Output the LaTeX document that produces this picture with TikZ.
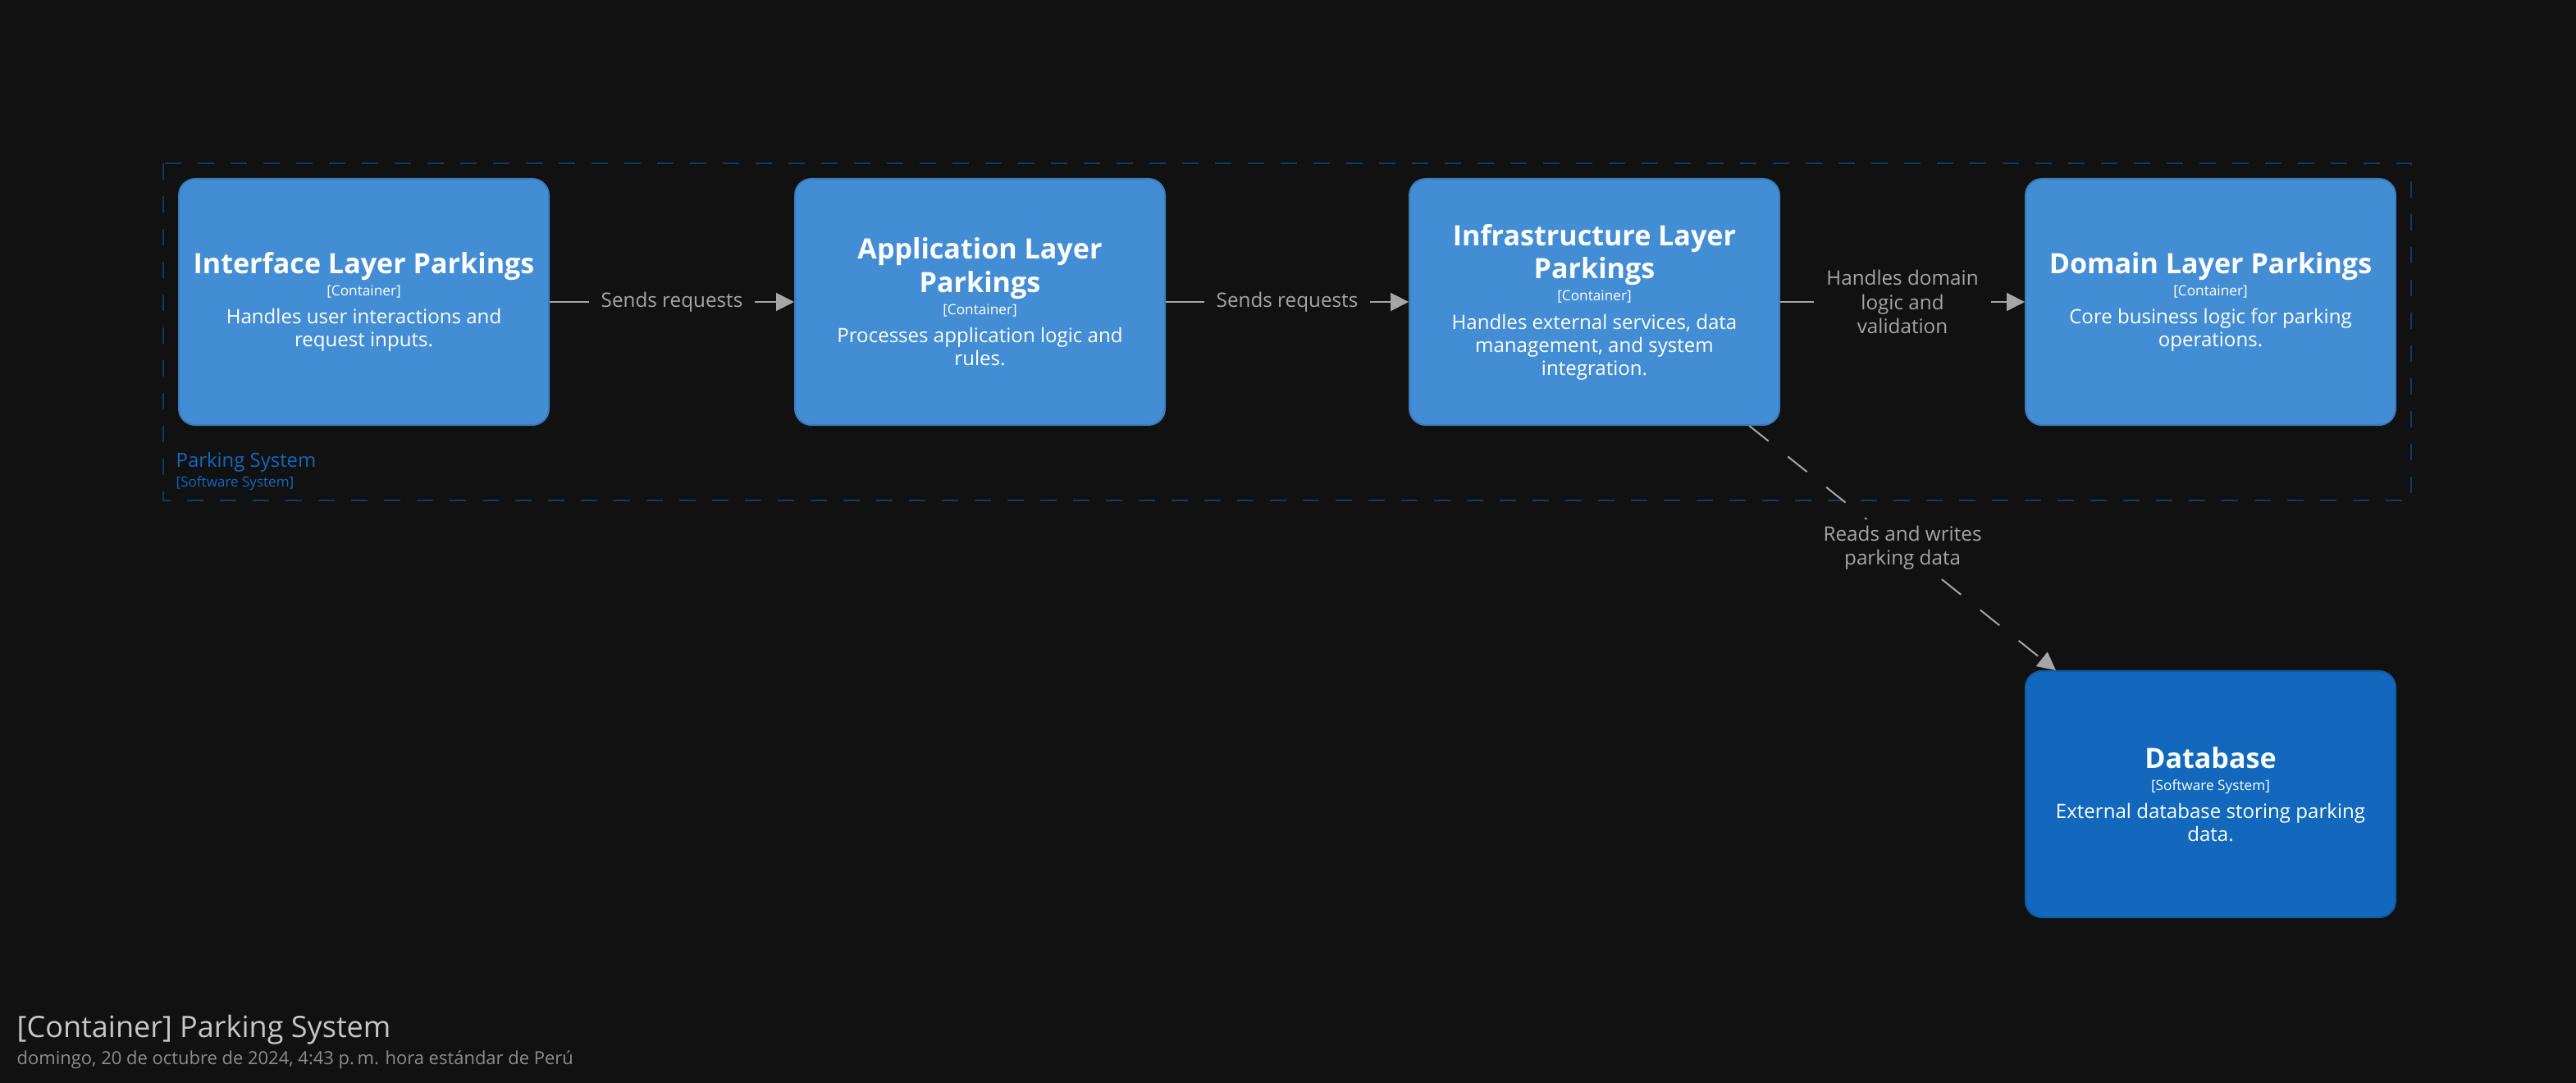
\documentclass[tikz,border=0pt]{standalone}
\usepackage{fontspec}
\setmainfont{Open Sans}
\usetikzlibrary{arrows.meta}
\definecolor{bgcolor}{HTML}{111111}
\definecolor{containercolor}{HTML}{438DD5}
\definecolor{systemcolor}{HTML}{1168BD}
\definecolor{boundarycolor}{HTML}{0E3A66}
\definecolor{linkcolor}{HTML}{A6A6A6}
\newcommand{\boxwidth}{4.51cm}
\newcommand{\boxheight}{3.0cm}
\newcommand{\namefont}{\fontsize{9.7}{11.6}\selectfont\bfseries}
\newcommand{\tagfont}{\fontsize{4.9}{6}\selectfont}
\newcommand{\descfont}{\fontsize{6.85}{8.0}\selectfont}
\newcommand{\boxtext}[3]{{\namefont #1\par}\vspace{0.06cm}{\tagfont #2\par}\vspace{0.06cm}{\descfont #3\par}}

\tikzset{
  container/.style={rectangle, rounded corners=0.2cm, fill=containercolor,
    draw=containercolor!88!black, line width=0.02cm,
    minimum width=\boxwidth, minimum height=\boxheight,
    text width=4.4cm, align=flush center, text=white, inner sep=0pt},
  extsystem/.style={container, fill=systemcolor, draw=systemcolor!88!black},
  link/.style={draw=linkcolor, line width=0.02cm,
    -{Triangle[length=0.22cm, width=0.22cm]}, linkcolor},
  linklabel/.style={fill=bgcolor, text=linkcolor, align=center,
    font=\fontsize{6.9}{8.3}\selectfont, inner xsep=0.15cm, inner ysep=0.08cm},
}

\begin{document}
\begin{tikzpicture}
\fill[bgcolor] (0,0) rectangle (31.4,-13.2);
\useasboundingbox (0,0) rectangle (31.4,-13.2);

% boundary of the software system
\draw[boundarycolor, line width=0.02cm, dash pattern=on 0.2cm off 0.2cm] (1.99,-1.99) rectangle (29.39,-6.10);
\node[anchor=west, text=systemcolor, font=\fontsize{6.8}{8}\selectfont, inner sep=0pt] (sysname) at (2.14,-5.63) {Parking System};
\node[anchor=west, text=systemcolor, font=\fontsize{4.85}{6}\selectfont, inner sep=0pt] (systag) at (2.14,-5.89) {[Software System]};

% containers
\node[container] (iface) at (4.435,-3.68) {\boxtext{Interface Layer Parkings}{[Container]}{Handles user interactions and\\request inputs.}};
\node[container] (app) at (11.945,-3.68) {\boxtext{Application Layer\\Parkings}{[Container]}{Processes application logic and\\rules.}};
\node[container] (infra) at (19.435,-3.68) {\boxtext{Infrastructure Layer\\Parkings}{[Container]}{Handles external services, data\\management, and system\\integration.}};
\node[container] (domain) at (26.945,-3.68) {\boxtext{Domain Layer Parkings}{[Container]}{Core business logic for parking\\operations.}};
\node[extsystem] (db) at (26.945,-9.68) {\boxtext{Database}{[Software System]}{External database storing parking\\data.}};

% relationships
\draw[link] (iface) -- node[linklabel] {Sends requests} (app);
\draw[link] (app) -- node[linklabel] {Sends requests} (infra);
\draw[link] (infra) -- node[linklabel] {Handles domain\\logic and\\validation} (domain);
\draw[link, dash pattern=on 0.3cm off 0.3cm] (infra) -- node[linklabel] {Reads and writes\\parking data} (db);

% title
\node[anchor=west, text=black!22, font=\fontsize{10.25}{12}\selectfont, inner sep=0pt] (title) at (0.2,-12.55) {[Container] Parking System};
\node[anchor=west, text=black!45, font=\fontsize{6.25}{8}\selectfont, inner sep=0pt] (date) at (0.2,-12.92) {domingo, 20 de octubre de 2024, 4:43 p.\,m. hora estándar de Perú};
\end{tikzpicture}
\end{document}
